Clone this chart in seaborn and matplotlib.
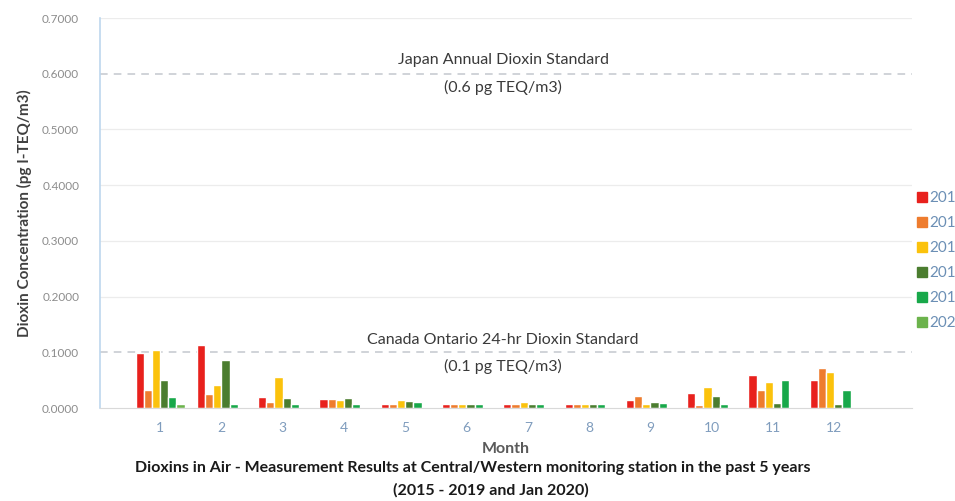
import numpy as np
import pandas as pd
import seaborn as sns
import matplotlib.pyplot as plt

# dane
months = [1, 2, 3, 4, 5, 6, 7, 8, 9, 10, 11, 12]
years = ['2015', '2016', '2017', '2018', '2019', '2020']
v2015 = [0.099, 0.113, 0.020, 0.016, 0.008, 0.008, 0.008, 0.008, 0.014, 0.027, 0.059, 0.051]
v2016 = [0.032, 0.026, 0.010, 0.016, 0.007, 0.008, 0.008, 0.008, 0.022, 0.006, 0.032, 0.071]
v2017 = [0.104, 0.041, 0.056, 0.014, 0.015, 0.008, 0.011, 0.008, 0.007, 0.038, 0.047, 0.065]
v2018 = [0.050, 0.086, 0.018, 0.018, 0.013, 0.008, 0.008, 0.008, 0.011, 0.022, 0.009, 0.007]
v2019 = [0.020, 0.008, 0.008, 0.008, 0.010, 0.008, 0.008, 0.008, 0.009, 0.008, 0.050, 0.032]
v2020 = [0.008] + [np.nan] * 11
colors = ['#e8211d', '#ee7c2e', '#fbc20c', '#4b7d2f', '#18a84a', '#6cb34c']

df = pd.DataFrame({
    'Month': months * 6,
    'Year': [y for y in years for _ in months],
    'Value': v2015 + v2016 + v2017 + v2018 + v2019 + v2020,
})

sns.set_style('white')
plt.rcParams['font.family'] = ['Lato', 'DejaVu Sans']

fig = plt.figure(figsize=(9.55, 5.01), dpi=100)
ax = fig.add_axes([0.1047, 0.1856, 0.8503, 0.7784])

sns.barplot(data=df, x='Month', y='Value', hue='Year', hue_order=years,
            palette=colors, errorbar=None, width=0.8, ax=ax, legend=False,
            saturation=1)

ax.set_xlim(-0.98, 12.27)
ax.set_ylim(0, 0.7)
ax.set_yticks(np.arange(0, 0.71, 0.1))
ax.set_yticklabels([f'{t:.4f}' for t in np.arange(0, 0.71, 0.1)])
ax.tick_params(axis='y', labelsize=8.5, colors='#8c8c8c', length=5, color='#d0d0d0', pad=10)
ax.tick_params(axis='x', labelsize=10, colors='#7f9cbd', length=0, pad=10)

for y in [0.2, 0.3, 0.4, 0.5, 0.7]:
    ax.axhline(y, color='#ececec', lw=0.9, zorder=0)
ax.axhline(0.6, color='#c3c8ce', lw=1.1, ls=(0, (5, 4)), zorder=0)
ax.axhline(0.1, color='#c3c8ce', lw=1.1, ls=(0, (5, 4)), zorder=0)

for s in ['top', 'right']:
    ax.spines[s].set_visible(False)
ax.spines['left'].set_color('#bdd7ee')
ax.spines['left'].set_linewidth(1.2)
ax.spines['bottom'].set_color('#d9d9d9')

note = dict(ha='center', va='center', fontsize=11.5, color='#3a3a3a')
ax.text(5.6, 0.625, 'Japan Annual Dioxin Standard', **note)
ax.text(5.6, 0.5745, '(0.6 pg TEQ/m3)', **note)
ax.text(5.6, 0.1225, 'Canada Ontario 24-hr Dioxin Standard', **note)
ax.text(5.6, 0.0754, '(0.1 pg TEQ/m3)', **note)

ax.set_xlabel('Month', fontsize=11.5, fontweight='bold', color='#5a5a5a', labelpad=6)
ax.set_ylabel('Dioxin Concentration (pg I-TEQ/m3)', fontsize=11, fontweight='bold',
              color='#404040', labelpad=7)

fig.text(0.495, 0.066, 'Dioxins in Air - Measurement Results at Central/Western monitoring station in the past 5 years',
         ha='center', va='center', fontsize=11.5, fontweight='bold', color='#1a1a1a')
fig.text(0.514, 0.022, '(2015 - 2019 and Jan 2020)',
         ha='center', va='center', fontsize=11.5, fontweight='bold', color='#1a1a1a')

# legenda ucieta na krawedzi jak w oryginale
handles = [plt.Line2D([], [], marker='s', ls='', color=c, markersize=6.5) for c in colors]
fig.legend(handles, years, loc='upper left', bbox_to_anchor=(0.951, 0.63),
           frameon=False, fontsize=11, labelcolor='#6b8fb5', handletextpad=0.0,
           labelspacing=0.72, handlelength=1.0, borderaxespad=0)

fig.savefig('out.png', dpi=100)
